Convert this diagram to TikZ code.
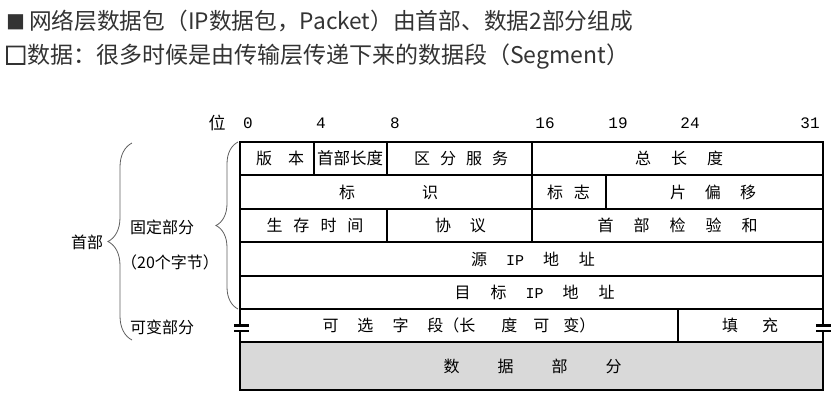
\documentclass[tikz,border=0pt]{standalone}
\usepackage{fontspec}
\setmainfont{Noto Sans CJK SC}
\newfontfamily\monofont{Liberation Mono}
\newfontfamily\heavybox[FakeBold=4]{Noto Sans CJK SC}
\usetikzlibrary{decorations.pathreplacing}
\definecolor{textgray}{RGB}{51,51,51}
\definecolor{bracegray}{RGB}{95,95,95}
\definecolor{datagray}{RGB}{217,217,217}

\begin{document}
\begin{tikzpicture}[
    x=1pt, y=-1pt,
    cell/.style={font=\fontsize{16}{16}\selectfont, inner sep=0pt},
    bitno/.style={font=\monofont\fontsize{16}{16}\selectfont, inner sep=0pt},
    side/.style={font=\fontsize{16}{16}\selectfont, inner sep=0pt},
    headline/.style={font=\fontsize{22.7}{22.7}\selectfont, text=textgray, anchor=west, inner sep=0pt},
    grid/.style={line width=1.1pt},
    frame/.style={line width=2pt},
    curly/.style={decorate, decoration={brace, amplitude=#1}, draw=bracegray, line width=0.8pt},
    breakmark/.style={line width=2.4pt}
]
    \useasboundingbox (0,0) rectangle (836,400);

    % heading lines
    \node[headline] (line1) at (6,21) {{\fontsize{19}{19}\selectfont ■}\hspace{4pt}网络层数据包（IP数据包，Packet）由首部、数据2部分组成};
    \node[headline, font=\fontsize{23}{23}\selectfont] (line2) at (4,57) {{\heavybox □}数据：很多时候是由传输层传递下来的数据段（Segment）};

    % bit numbers
    \node[side, font=\fontsize{17}{17}\selectfont] (wei) at (217,123) {位};
    \node[bitno] (b0) at (248,123) {0};
    \node[bitno] (b4) at (321,123) {4};
    \node[bitno] (b8) at (395,123) {8};
    \node[bitno] (b16) at (545,123) {16};
    \node[bitno] (b19) at (618,123) {19};
    \node[bitno] (b24) at (690,123) {24};
    \node[bitno] (b31) at (810,123) {31};

    % data part and grid
    \fill[datagray] (240,342) rectangle (823,390);
    \draw[grid] (240,175) -- (823,175);
    \draw[grid] (240,209) -- (823,209);
    \draw[grid] (240,242) -- (823,242);
    \draw[grid] (240,276) -- (823,276);
    \draw[grid] (240,309) -- (823,309);
    \draw[grid] (240,342) -- (823,342);
    \draw[grid] (314,142) -- (314,175);
    \draw[grid] (387,142) -- (387,175);
    \draw[grid] (387,209) -- (387,242);
    \draw[grid] (532,142) -- (532,242);
    \draw[grid] (606,175) -- (606,209);
    \draw[grid] (678,309) -- (678,342);
    \draw[frame] (240,142) rectangle (823,390);

    % break marks of the variable part
    \fill[white] (234,327) rectangle (249,329.5);
    \fill[white] (816,327) rectangle (831,329.5);
    \draw[breakmark] (234,325.5) -- (249,325.5);
    \draw[breakmark] (234,331) -- (249,331);
    \draw[breakmark] (816,325.5) -- (831,325.5);
    \draw[breakmark] (816,331) -- (831,331);

    % fields
    \node[cell] (version) at (280,158.5) {版\hspace{16pt}本};
    \node[cell, font=\fontsize{16.5}{16}\selectfont] (ihl) at (350,158.5) {首部长度};
    \node[cell] (dscp) at (461,158.5) {区\hspace{10pt}分\hspace{10pt}服\hspace{10pt}务};
    \node[cell] (totlen) at (679,158.5) {总\hspace{20pt}长\hspace{20pt}度};
    \node[cell] (ident) at (388.5,192) {标\hspace{67pt}识};
    \node[cell] (flags) at (568.5,192) {标\hspace{11pt}志};
    \node[cell] (offset) at (713,192) {片\hspace{19pt}偏\hspace{19pt}移};
    \node[cell] (ttl) at (315,225.5) {生\hspace{11pt}存\hspace{11pt}时\hspace{11pt}间};
    \node[cell] (proto) at (460.5,225.5) {协\hspace{19pt}议};
    \node[cell] (chksum) at (677.5,225.5) {首\hspace{20pt}部\hspace{20pt}检\hspace{20pt}验\hspace{20pt}和};
    \node[cell] (srcip) at (533,259) {源\hspace{19pt}{\monofont\fontsize{15}{15}\selectfont IP}\hspace{19pt}地\hspace{20pt}址};
    \node[cell] (dstip) at (534.5,292.5) {目\hspace{20pt}标\hspace{19pt}{\monofont\fontsize{15}{15}\selectfont IP}\hspace{19pt}地\hspace{20pt}址};
    \node[cell] (options) at (459,325.5) {可\hspace{19pt}选\hspace{19pt}字\hspace{19pt}段（长\hspace{26pt}度\hspace{16pt}可\hspace{14pt}变）};
    \node[cell] (padding) at (750,325.5) {填\hspace{24pt}充};
    \node[cell] (payload) at (532.5,366) {数\hspace{38pt}据\hspace{38pt}部\hspace{38pt}分};

    % braces and their labels
    \draw[curly=22pt] (238,309) -- (238,142);
    \draw[curly=24pt] (132,340) -- (132,143);
    \node[side] (header) at (87,242) {首部};
    \node[side] (fixed) at (162,227) {固定部分};
    \node[side] (bytes) at (170,262) {（20个字节）};
    \node[side] (variable) at (162,327) {可变部分};
\end{tikzpicture}
\end{document}
